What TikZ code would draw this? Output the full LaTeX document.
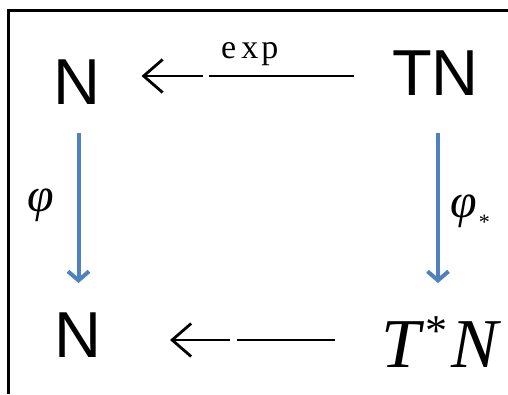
\documentclass[tikz,border=0pt]{standalone}
\usepackage{fontspec}
\setmainfont{Liberation Serif}
\newfontfamily\arialf{Liberation Sans}
\usetikzlibrary{arrows.meta}
\definecolor{officeblue}{RGB}{79,129,189}
\tikzset{
  sanslabel/.style={inner sep=0pt, font=\arialf\fontsize{65}{65}\selectfont},
  seriflabel/.style={inner sep=0pt},
  mapline/.style={line width=2pt, -{Straight Barb[length=19pt,width=33pt,line width=2.8pt]}},
  bluearrow/.style={draw=officeblue, line width=4pt, -{Straight Barb[length=9pt,width=21pt]}},
  frameline/.style={line width=2.6pt},
}
\begin{document}
\begin{tikzpicture}[x=1pt,y=-1pt]
\useasboundingbox (0,0) rectangle (508,394);
\draw[frameline] (8.7,394) -- (8.7,10.7) -- (508,10.7);
\node[sanslabel] (N1) at (76.5,82) {N};
\node[sanslabel] (TN) at (435.5,73) {TN};
\node[sanslabel] (N2) at (77.5,335.5) {N};
\node[seriflabel, anchor=base west] (TsN) at (381,367)
  {\fontsize{70}{70}\selectfont\itshape T\kern5pt\raisebox{22pt}{\upshape\fontsize{44}{44}\selectfont *}\kern4pt N};
\node[seriflabel, anchor=base west] (exp) at (221,58)
  {\fontsize{34}{34}\selectfont e\kern5pt x\kern3pt p};
\node[seriflabel] (phi) at (40.5,205.5) {\fontsize{48}{48}\selectfont\itshape φ};
\node[seriflabel] (phis) at (463.5,212.5)
  {\fontsize{48}{48}\selectfont\itshape φ\rlap{\kern2pt\raisebox{-12pt}{\upshape\fontsize{22}{22}\selectfont *}}};
% horizontal maps
\draw[mapline, dash pattern=on 145pt off 6pt on 200pt]
  ([shift={(-82,3)}]TN.center) -- ([shift={(65,-6)}]N1.center);
\draw[mapline, dash pattern=on 98pt off 7pt on 200pt]
  ([shift={(-46,-27)}]TsN.base west) -- ([shift={(92.5,4.5)}]N2.center);
% vertical maps
\draw[bluearrow, shorten <=51pt, shorten >=52.5pt]
  ([xshift=2pt]N1.center) -- ([xshift=1pt]N2.center);
\draw[bluearrow, shorten <=60pt, shorten >=52.5pt]
  ([xshift=2.5pt]TN.center) -- ([xshift=2.5pt]TN.center |- N2.center);
\end{tikzpicture}
\end{document}
